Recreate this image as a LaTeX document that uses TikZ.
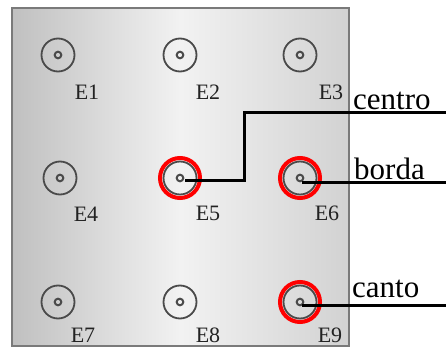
\documentclass[tikz,border=0pt]{standalone}
\usepackage{fontspec}
\setmainfont{Liberation Serif}
\definecolor{ringgray}{HTML}{4A4A4A}
\definecolor{labgray}{HTML}{222222}
\definecolor{panelborder}{HTML}{7A7A7A}
\begin{document}
\begin{tikzpicture}[x=1pt,y=-1pt,
  ring/.style={circle,draw=ringgray,line width=1.8pt,minimum size=33pt,inner sep=0pt,
    path picture={\draw[ringgray,line width=2pt] (path picture bounding box.center) circle (3.3pt);}},
  hot/.style={circle,draw=red,line width=4pt,minimum size=40pt,inner sep=0pt},
  elab/.style={font=\fontsize{22}{22}\selectfont,text=labgray,inner sep=0pt},
  slab/.style={font=\fontsize{31}{31}\selectfont,inner sep=0pt,anchor=base west},
  wire/.style={line width=3pt,black}]
\useasboundingbox (0,0) rectangle (446,347);
% panel
\shade[left color={rgb,255:red,192;green,192;blue,192},right color={rgb,255:red,210;green,210;blue,210},
  middle color={rgb,255:red,242;green,242;blue,242}] (12,8) rectangle (349,346);
\draw[panelborder,line width=2pt] (12,8) rectangle (349,346);
% electrodes
\node[ring] (e1) at (58,55) {};
\node[ring] (e2) at (180,55) {};
\node[ring] (e3) at (300,55) {};
\node[ring] (e4) at (60,178) {};
\node[ring] (e5) at (180,178) {};
\node[ring] (e6) at (300,178) {};
\node[ring] (e7) at (58,302) {};
\node[ring] (e8) at (180,302) {};
\node[ring] (e9) at (300,302) {};
\node[hot] (h5) at (e5) {};
\node[hot] (h6) at (e6) {};
\node[hot] (h9) at (e9) {};
% labels
\node[elab] (l1) at (87,92) {E1};
\node[elab] (l2) at (208,92) {E2};
\node[elab] (l3) at (331,92) {E3};
\node[elab] (l4) at (86,214) {E4};
\node[elab] (l5) at (208,213) {E5};
\node[elab] (l6) at (327,213) {E6};
\node[elab] (l7) at (83,335) {E7};
\node[elab] (l8) at (208,335) {E8};
\node[elab] (l9) at (330,335) {E9};
% connectors
\coordinate (c5) at (446,113);
\coordinate (c6) at (446,183);
\coordinate (c9) at (446,305);
\draw[wire] ([shift={(5,3)}]e5.center) -- (244,181) -- (244,113) -- (c5);
\draw[wire] ([shift={(2,5)}]e6.center) -- (c6);
\draw[wire] ([shift={(2,3)}]e9.center) -- (c9);
% side labels
\node[slab] (t1) at (353,110) {centro};
\node[slab] (t2) at (354,180) {borda};
\node[slab] (t3) at (352,297) {canto};
\end{tikzpicture}
\end{document}
